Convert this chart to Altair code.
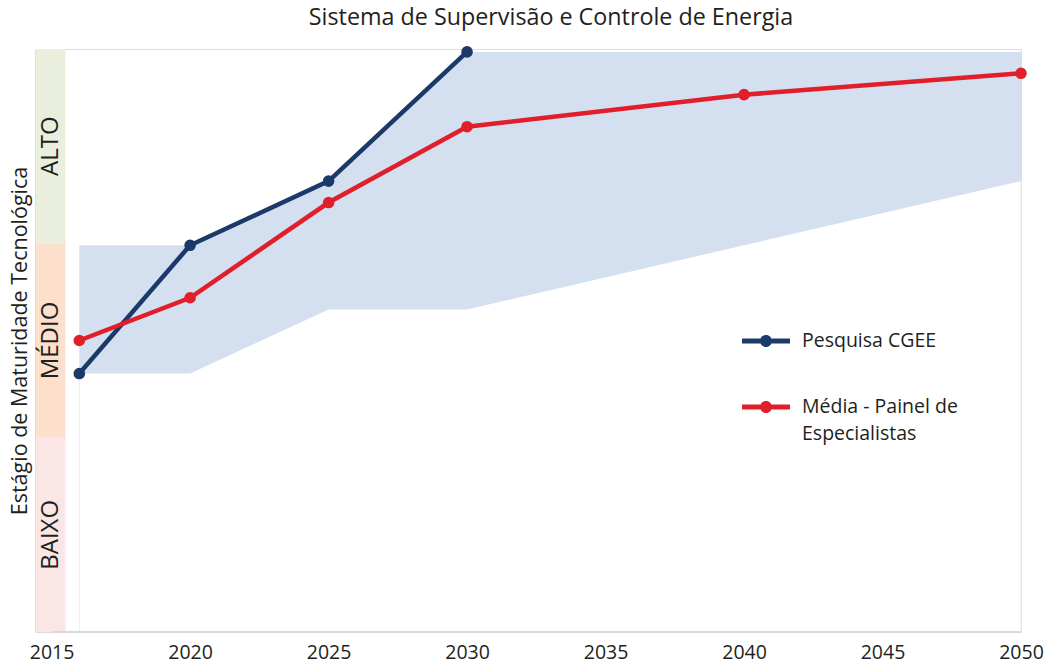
import altair as alt
import pandas as pd

# --- data -------------------------------------------------------------
anos_pesquisa = [2016, 2020, 2025, 2030]
pesquisa_cgee = [1.33, 1.99, 2.32, 2.985]

anos_painel = [2016, 2020, 2025, 2030, 2040, 2050]
media_painel = [1.50, 1.72, 2.21, 2.60, 2.765, 2.875]

# range of the expert panel answers (shaded band)
faixa_min = [1.33, 1.33, 1.66, 1.66, 1.99, 2.32]
faixa_max = [1.99, 1.99, 2.32, 2.985, 2.985, 2.985]

estagios = ["BAIXO", "MÉDIO", "ALTO"]
estagio_inicio = [0, 1, 2]
estagio_fim = [1, 2, 3]
estagio_cores = ["#fbe6e6", "#fde0cb", "#e9efdc"]

anos_eixo = [2015, 2020, 2025, 2030, 2035, 2040, 2045, 2050]

SERIE_1 = "Pesquisa CGEE"
SERIE_2 = "Média - Painel de Especialistas"
AZUL = "#1b3a6a"
VERMELHO = "#e01f2b"
FONTE = "Open Sans"
TEXTO = "#231f20"

# --- tables -----------------------------------------------------------
series = pd.DataFrame(
    {"ano": anos_pesquisa, "valor": pesquisa_cgee, "serie": SERIE_1}
)
series = pd.concat(
    [series, pd.DataFrame({"ano": anos_painel, "valor": media_painel, "serie": SERIE_2})],
    ignore_index=True,
)
faixa = pd.DataFrame({"ano": anos_painel, "min": faixa_min, "max": faixa_max})
niveis = pd.DataFrame(
    {
        "estagio": estagios,
        "ini": estagio_inicio,
        "fim": estagio_fim,
        "meio": [(a + b) / 2 for a, b in zip(estagio_inicio, estagio_fim)],
        "x0": 2014.43,
        "x1": 2015.5,
        "xm": 2014.965,
    }
)
eixo = pd.DataFrame({"a": [anos_eixo[0]], "b": [anos_eixo[-1]], "y": [0]})
guias = pd.DataFrame({"ano": [anos_painel[0], anos_painel[-1]], "y0": [0, 0], "y1": [faixa_min[0], faixa_min[-1]]})

# --- scales / axes ----------------------------------------------------
xs = alt.Scale(domain=[2014.4, 2050], nice=False, zero=False)
ys = alt.Scale(domain=[0, 3], nice=False, zero=False)
x_axis = alt.Axis(
    values=anos_eixo, format="d", domain=False, ticks=False, grid=False,
    labelFont=FONTE, labelFontSize=19.5, labelColor=TEXTO, labelPadding=11,
    labelFlush=False, title=None,
)
y_axis = alt.Axis(
    labels=False, domain=False, ticks=False, grid=False,
    title="Estágio de Maturidade Tecnológica", titleFont=FONTE,
    titleFontSize=21.5, titleFontWeight="normal", titleColor=TEXTO, titlePadding=4,
)

# --- layers -----------------------------------------------------------
bandas = alt.Chart(niveis).mark_rect().encode(
    x=alt.X("x0:Q", scale=xs, axis=x_axis),
    x2="x1:Q",
    y=alt.Y("ini:Q", scale=ys, axis=y_axis),
    y2="fim:Q",
    fill=alt.Fill("estagio:N", scale=alt.Scale(domain=estagios, range=estagio_cores), legend=None),
)

rotulos = alt.Chart(niveis).mark_text(
    angle=270, font=FONTE, fontSize=24, color=TEXTO, baseline="middle", align="center"
).encode(
    x=alt.X("xm:Q", scale=xs),
    y=alt.Y("meio:Q", scale=ys),
    text="estagio:N",
)

linha_eixo = alt.Chart(eixo).mark_rule(color="#d9d9d9", strokeWidth=2).encode(
    x=alt.X("a:Q", scale=xs), x2="b:Q", y=alt.Y("y:Q", scale=ys)
)

linhas_guia = alt.Chart(guias).mark_rule(color="#e9edf4", strokeWidth=1).encode(
    x=alt.X("ano:Q", scale=xs), y=alt.Y("y0:Q", scale=ys), y2="y1:Q"
)

area = alt.Chart(faixa).mark_area(color="#d4dff0", opacity=1).encode(
    x=alt.X("ano:Q", scale=xs),
    y=alt.Y("min:Q", scale=ys),
    y2="max:Q",
)

cores = alt.Scale(domain=[SERIE_1, SERIE_2], range=[AZUL, VERMELHO])

# legend symbol: short bar with a dot in the middle
simbolo = (
    "M -1 -0.1 H -0.2 V 0.1 H -1 Z "
    "M 0.2 -0.1 H 1 V 0.1 H 0.2 Z "
    "M 0.25 0 A 0.25 0.25 0 1 1 -0.25 0 A 0.25 0.25 0 1 1 0.25 0 Z"
)

legenda = alt.Legend(
    title=None,
    orient="none",
    legendX=707,
    legendY=268,
    symbolType=simbolo,
    symbolSize=2304,
    symbolStrokeWidth=0,
    labelFont=FONTE,
    labelFontSize=19.5,
    labelColor=TEXTO,
    labelOffset=12,
    labelLimit=400,
    rowPadding=32,
    labelExpr="datum.label == 'Média - Painel de Especialistas' ? ['Média - Painel de', 'Especialistas'] : datum.label",
)

linhas = alt.Chart(series).mark_line(strokeWidth=4.5).encode(
    x=alt.X("ano:Q", scale=xs),
    y=alt.Y("valor:Q", scale=ys),
    color=alt.Color("serie:N", scale=cores, legend=legenda),
)

pontos = alt.Chart(series).mark_circle(size=135, opacity=1).encode(
    x=alt.X("ano:Q", scale=xs),
    y=alt.Y("valor:Q", scale=ys),
    color=alt.Color("serie:N", scale=cores, legend=legenda),
)

chart = (
    alt.layer(bandas, linhas_guia, area, linha_eixo, rotulos, linhas, pontos)
    .properties(
        width=986,
        height=583,
        padding={"left": 35, "top": 49, "right": 27, "bottom": 35},
        autosize=alt.AutoSizeParams(type="none"),
        title=alt.TitleParams(
            "Sistema de Supervisão e Controle de Energia",
            font=FONTE, fontSize=23.3, fontWeight="normal", color=TEXTO,
            anchor="middle", offset=13, dx=23,
        ),
    )
    .configure_view(stroke=None)
    .configure(style={"guide-label": {"lineHeight": 27}})
)

chart.save("out.html", embed_options={"renderer": "svg", "actions": False})
